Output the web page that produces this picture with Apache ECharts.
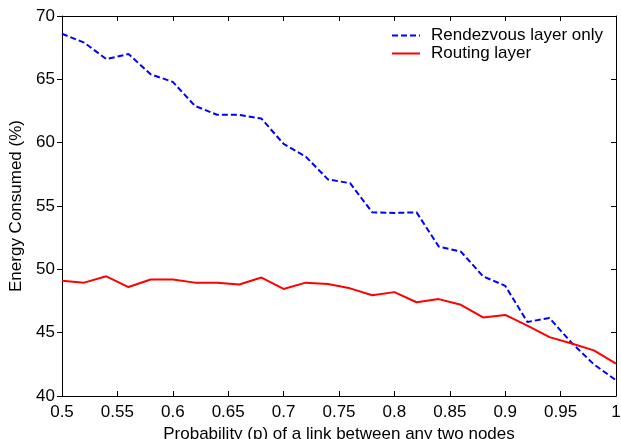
<!DOCTYPE html>
<html>
<head>
<meta charset="utf-8">
<script src="https://cdn.jsdelivr.net/npm/echarts@6/dist/echarts.min.js"></script>
<style>
html,body{margin:0;padding:0;background:#fff;}
#chart{width:621px;height:439px;}
</style>
</head>
<body>
<div id="chart"></div>
<script>
var probability = [0.50, 0.52, 0.54, 0.56, 0.58, 0.60, 0.62, 0.64, 0.66, 0.68, 0.70, 0.72, 0.74, 0.76, 0.78, 0.80, 0.82, 0.84, 0.86, 0.88, 0.90, 0.92, 0.94, 0.96, 0.98, 1.00];
var rendezvousOnly = [68.6, 67.9, 66.6, 67.0, 65.4, 64.8, 62.9, 62.2, 62.2, 61.9, 59.9, 58.9, 57.1, 56.8, 54.5, 54.45, 54.5, 51.8, 51.4, 49.45, 48.7, 45.85, 46.15, 44.2, 42.5, 41.25];
var routingLayer = [49.1, 48.95, 49.45, 48.6, 49.2, 49.2, 48.95, 48.95, 48.8, 49.35, 48.45, 48.95, 48.85, 48.5, 47.95, 48.2, 47.4, 47.65, 47.2, 46.2, 46.4, 45.55, 44.65, 44.15, 43.6, 42.55];
var seriesNames = ['Rendezvous layer only', 'Routing layer'];
var xName = 'Probability (p) of a link between any two nodes';
var yName = 'Energy Consumed (%)';

var FONT = "'Liberation Sans', Arial, sans-serif";
function pairs(xs, ys){ return xs.map(function(x,i){ return [x, ys[i]]; }); }

var chart = echarts.init(document.getElementById('chart'), null, {renderer:'canvas'});
var axisLine = {show:true, lineStyle:{color:'#000', width:1}};
chart.setOption({
  animation:false,
  backgroundColor:'#fff',
  textStyle:{fontFamily:FONT},
  grid:{left:62, right:5, top:16, bottom:43, containLabel:false, outerBoundsMode:'none'},
  legend:{
    orient:'vertical', left:386, top:22, padding:5, itemWidth:28, itemHeight:14, itemGap:1,
    itemStyle:{opacity:0},
    textStyle:{fontSize:17, color:'#000', fontFamily:FONT, padding:[0,0,0,6]},
    data:seriesNames
  },
  xAxis:[{
    type:'value', min:0.5, max:1, interval:0.05, position:'bottom',
    name:xName, nameLocation:'middle', nameGap:26,
    nameTextStyle:{fontSize:17, color:'#000', fontFamily:FONT},
    axisLine:axisLine,
    axisTick:{show:true, inside:true, length:5, lineStyle:{color:'#000'}},
    axisLabel:{fontSize:17, color:'#000', fontFamily:FONT, margin:8,
      formatter:function(v){ return String(parseFloat(v.toFixed(2))); }},
    splitLine:{show:false}
  },{
    type:'value', min:0.5, max:1, interval:0.05, position:'top',
    axisLine:axisLine,
    axisTick:{show:true, inside:true, length:5, lineStyle:{color:'#000'}},
    axisLabel:{show:false}, splitLine:{show:false}
  }],
  yAxis:[{
    type:'value', min:40, max:70, interval:5, position:'left',
    name:yName, nameLocation:'middle', nameGap:35, nameRotate:90,
    nameTextStyle:{fontSize:17, color:'#000', fontFamily:FONT},
    axisLine:axisLine,
    axisTick:{show:true, inside:false, length:5, lineStyle:{color:'#000'}},
    axisLabel:{fontSize:17, color:'#000', fontFamily:FONT, margin:7},
    splitLine:{show:false}
  },{
    type:'value', min:40, max:70, interval:5, position:'right',
    axisLine:axisLine,
    axisTick:{show:true, inside:true, length:5, lineStyle:{color:'#000'}},
    axisLabel:{show:false}, splitLine:{show:false}
  }],
  series:[{
    name:seriesNames[0], type:'line', symbol:'none', xAxisIndex:0, yAxisIndex:0,
    data:pairs(probability, rendezvousOnly),
    lineStyle:{color:'#0000ff', width:2, type:[6,3]},
    itemStyle:{color:'#0000ff'}
  },{
    name:seriesNames[1], type:'line', symbol:'none', xAxisIndex:0, yAxisIndex:0,
    data:pairs(probability, routingLayer),
    lineStyle:{color:'#ff0000', width:2},
    itemStyle:{color:'#ff0000'}
  }]
});
</script>
</body>
</html>
